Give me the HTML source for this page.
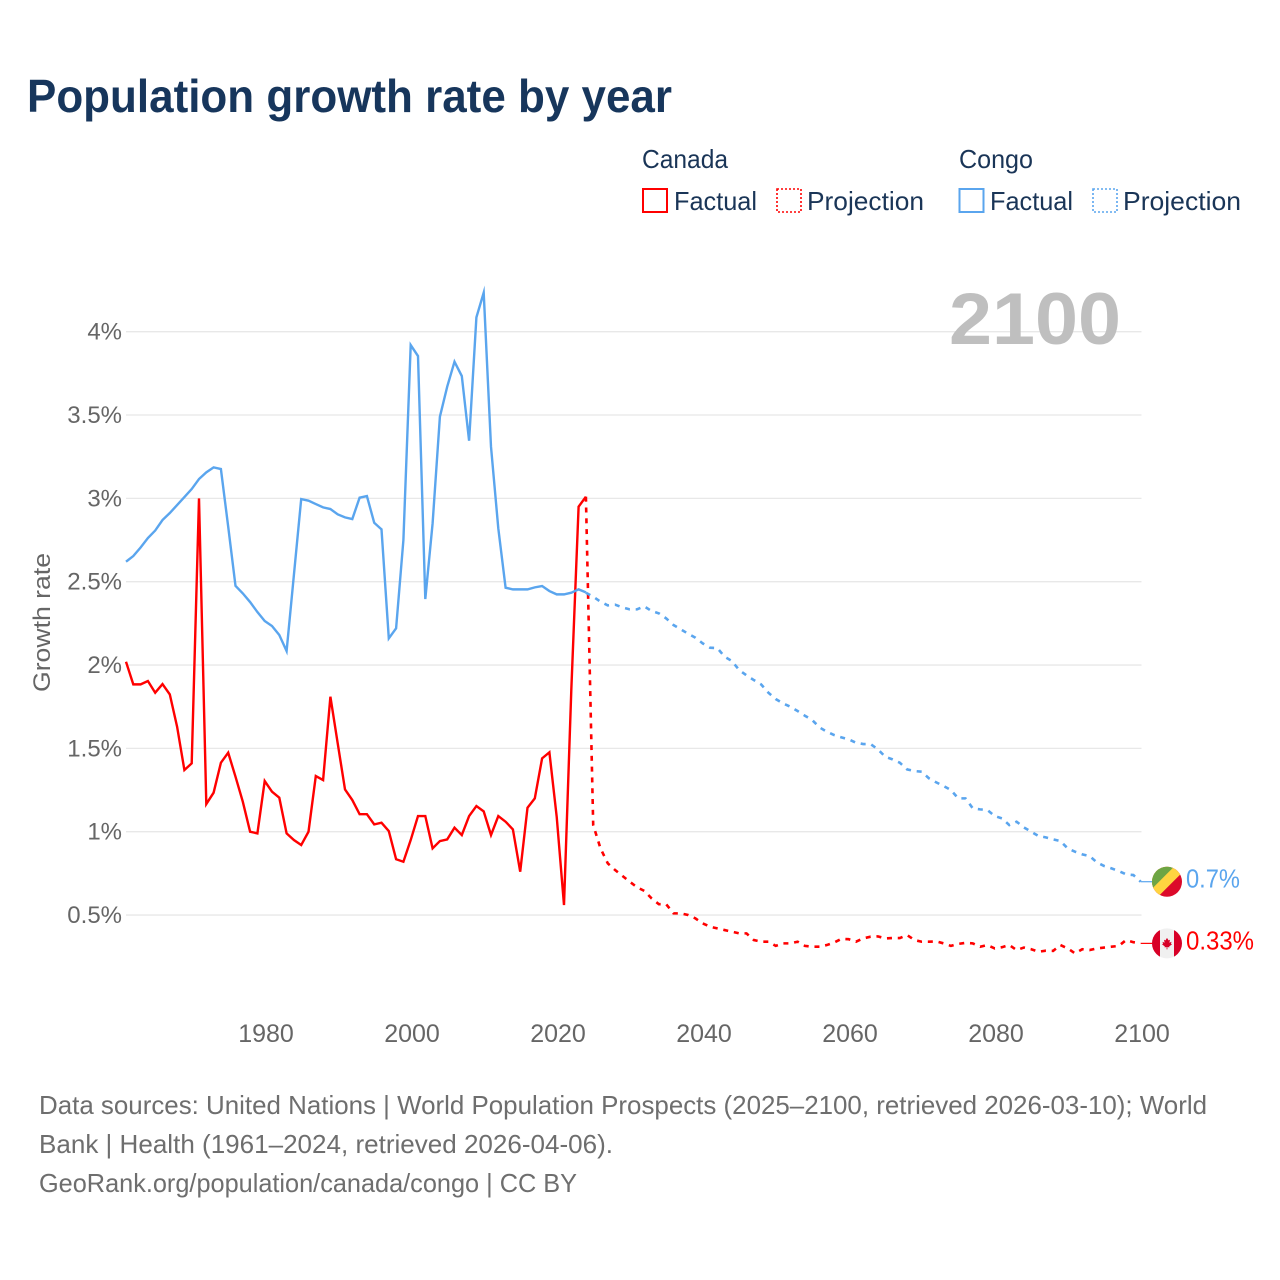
<!DOCTYPE html>
<html lang="en">
<head>
<meta charset="utf-8">
<title>Population growth rate by year</title>
<style>
html,body{margin:0;padding:0;background:#fff;}
svg{display:block;font-family:"Liberation Sans",sans-serif;}
</style>
</head>
<body>
<svg id="chart" width="1280" height="1280" viewBox="0 0 1280 1280" xmlns="http://www.w3.org/2000/svg">
  <defs>
    <clipPath id="congo-clip"><circle cx="0" cy="0" r="15"/></clipPath>
    <clipPath id="canada-clip"><circle cx="0" cy="0" r="15"/></clipPath>
  </defs>
  <rect width="1280" height="1280" fill="#fff"/>
  <text x="27" y="112" font-size="46" font-weight="700" fill="#17365c" textLength="645" lengthAdjust="spacingAndGlyphs">Population growth rate by year</text>

  <g fill="#1a3557" font-size="26">
    <text x="642" y="168" textLength="86" lengthAdjust="spacingAndGlyphs">Canada</text>
    <text x="959" y="168" textLength="74" lengthAdjust="spacingAndGlyphs">Congo</text>
    <g>
      <rect x="643" y="189" width="24" height="23" fill="none" stroke="#ff0000" stroke-width="2"/>
      <text x="674" y="210" textLength="83" lengthAdjust="spacingAndGlyphs">Factual</text>
    </g>
    <g>
      <rect x="777" y="189" width="24" height="23" fill="none" stroke="#ff0000" stroke-width="1.6" stroke-dasharray="2 2"/>
      <text x="807" y="210" textLength="117" lengthAdjust="spacingAndGlyphs">Projection</text>
    </g>
    <g>
      <rect x="959.5" y="189" width="24" height="23" fill="none" stroke="#5aa5ee" stroke-width="2"/>
      <text x="990" y="210" textLength="83" lengthAdjust="spacingAndGlyphs">Factual</text>
    </g>
    <g>
      <rect x="1093" y="189" width="24" height="23" fill="none" stroke="#5aa5ee" stroke-width="1.6" stroke-dasharray="2 2"/>
      <text x="1123" y="210" textLength="118" lengthAdjust="spacingAndGlyphs">Projection</text>
    </g>
  </g>

  <g id="grid"></g>
  <text x="1121" y="344" text-anchor="end" font-size="73" font-weight="700" fill="#bfbfbf" textLength="172" lengthAdjust="spacingAndGlyphs">2100</text>
  <g id="y-ticks"></g>
  <g id="x-ticks"></g>
  <text transform="translate(50 622.5) rotate(-90)" text-anchor="middle" font-size="24" fill="#666" textLength="139" lengthAdjust="spacingAndGlyphs">Growth rate</text>
  <g id="series"></g>

  <g id="flag-congo">
    <g clip-path="url(#congo-clip)">
      <rect x="-16" y="-16" width="32" height="32" fill="#dc0a2a"/>
      <polygon points="-16,-16 22,-16 -16,22" fill="#ffd440"/>
      <polygon points="-16,-16 8,-16 -16,8" fill="#6da544"/>
    </g>
  </g>
  <g id="flag-canada">
    <g clip-path="url(#canada-clip)">
      <rect x="-16" y="-16" width="32" height="32" fill="#f0f0f0"/>
      <rect x="-16" y="-16" width="9" height="32" fill="#d80027"/>
      <rect x="7" y="-16" width="9" height="32" fill="#d80027"/>
      <polygon points="0,-5.5 1.5,-3 3,-3.6 2.4,-0.6 4.5,-1.6 4,0.4 5,1 2.2,3 2.4,4 0.4,3.6 0.4,6 -0.4,6 -0.4,3.6 -2.4,4 -2.2,3 -5,1 -4,0.4 -4.5,-1.6 -2.4,-0.6 -3,-3.6 -1.5,-3" fill="#d80027"/>
    </g>
  </g>
  <text id="label-congo" x="1186" font-size="26" fill="#5aa5ee" textLength="54" lengthAdjust="spacingAndGlyphs"></text>
  <text id="label-canada" x="1186" font-size="26" fill="#ff0000" textLength="68" lengthAdjust="spacingAndGlyphs"></text>

  <g fill="#6e6e6e" font-size="26">
    <text x="39" y="1114" textLength="1168" lengthAdjust="spacingAndGlyphs">Data sources: United Nations | World Population Prospects (2025–2100, retrieved 2026-03-10); World</text>
    <text x="39" y="1153" textLength="574" lengthAdjust="spacingAndGlyphs">Bank | Health (1961–2024, retrieved 2026-04-06).</text>
    <text x="39" y="1192" textLength="538" lengthAdjust="spacingAndGlyphs">GeoRank.org/population/canada/congo | CC BY</text>
  </g>
</svg>
<script>
const factualStartYear = 1961;
const projectionStartYear = 2024;
const xTickYears = [1980, 2000, 2020, 2040, 2060, 2080, 2100];
const yTickValues = [0.5, 1, 1.5, 2, 2.5, 3, 3.5, 4];
const yTickLabels = ["0.5%", "1%", "1.5%", "2%", "2.5%", "3%", "3.5%", "4%"];
const endLabelCanada = "0.33%";
const endLabelCongo = "0.7%";

const canadaFactual = [
  2.02,1.884,1.884,1.904,1.834,1.886,1.824,1.63,1.37,1.41,
  3.0,1.166,1.234,1.414,1.474,1.33,1.18,1.0,0.99,1.304,
  1.24,1.204,0.99,0.95,0.92,1.0,1.334,1.31,1.81,1.53,
  1.254,1.19,1.105,1.105,1.044,1.054,1.004,0.835,0.82,0.95,
  1.094,1.094,0.9,0.944,0.954,1.024,0.98,1.094,1.154,1.122,
  0.98,1.094,1.06,1.014,0.76,1.144,1.2,1.44,1.476,1.09,
  0.56,1.85,2.95,3.01
];
const canadaProjection = [
  3.01,1.04,0.9,0.81,0.77,0.735,0.70,0.667,0.645,0.60,0.565,0.565,
  0.51,0.51,0.50,0.48,0.45,0.43,0.42,0.41,0.40,0.39,0.39,
  0.35,0.34,0.34,0.315,0.33,0.33,0.34,0.315,0.31,0.31,0.32,0.335,0.357,0.355,
  0.34,0.36,0.37,0.372,0.36,0.362,0.362,0.38,0.35,0.34,0.34,0.342,0.33,0.315,
  0.327,0.333,0.33,0.31,0.32,0.30,0.307,0.32,0.29,0.305,0.295,0.28,0.286,0.285,
  0.32,0.30,0.27,0.295,0.29,0.30,0.305,0.31,0.315,0.35,0.337,0.33
];
const congoFactual = [
  2.62,2.654,2.705,2.762,2.807,2.87,2.912,2.96,3.008,3.056,
  3.116,3.156,3.186,3.176,2.83,2.475,2.43,2.378,2.318,2.264,
  2.234,2.18,2.084,2.54,2.996,2.986,2.966,2.946,2.936,2.904,
  2.886,2.876,3.004,3.014,2.854,2.814,2.16,2.22,2.75,3.92,
  3.854,2.396,2.85,3.49,3.67,3.82,3.734,3.346,4.086,4.234,
  3.31,2.82,2.464,2.454,2.454,2.454,2.466,2.474,2.444,2.424,
  2.424,2.434,2.454,2.436
];
const congoProjection = [
  2.434,2.41,2.38,2.358,2.362,2.346,2.334,2.334,2.352,2.324,2.31,2.28,
  2.24,2.214,2.188,2.164,2.13,2.104,2.102,2.05,2.024,1.97,1.938,1.91,1.884,1.834,
  1.796,1.77,1.75,1.724,1.696,1.67,1.626,1.6,1.58,1.566,1.554,1.534,1.526,1.526,1.494,
  1.45,1.434,1.414,1.374,1.364,1.36,1.32,1.296,1.274,1.25,1.2,1.2,1.14,1.134,1.13,
  1.094,1.08,1.04,1.06,1.026,1.0,0.974,0.966,0.954,0.944,0.9,0.88,0.864,0.854,
  0.816,0.794,0.78,0.764,0.744,0.74,0.70
];

const SVG_NS = "http://www.w3.org/2000/svg";
function xScale(year) { return 126 + (year - 1961) * 7.3; }
function yScale(value) { return 331.7 + (4 - value) * 166.67; }
function linePoints(values, startYear) {
  return values.map(function (v, i) {
    return xScale(startYear + i).toFixed(2) + "," + yScale(v).toFixed(2);
  }).join(" ");
}

const gridGroup = document.getElementById("grid");
const yTickGroup = document.getElementById("y-ticks");
const xTickGroup = document.getElementById("x-ticks");
const seriesGroup = document.getElementById("series");

yTickValues.forEach(function (v, i) {
  const gridLine = document.createElementNS(SVG_NS, "line");
  gridLine.setAttribute("x1", 126);
  gridLine.setAttribute("x2", 1141.5);
  gridLine.setAttribute("y1", yScale(v));
  gridLine.setAttribute("y2", yScale(v));
  gridLine.setAttribute("stroke", "#e8e8e8");
  gridLine.setAttribute("stroke-width", "1.3");
  
  
  gridGroup.appendChild(gridLine);

  const tick = document.createElementNS(SVG_NS, "text");
  tick.setAttribute("x", 122);
  tick.setAttribute("y", yScale(v) + 8);
  tick.setAttribute("text-anchor", "end");
  tick.setAttribute("font-size", "24");
  tick.setAttribute("fill", "#666");
  tick.textContent = yTickLabels[i];
  
  
  yTickGroup.appendChild(tick);
});

xTickYears.forEach(function (year) {
  const tick = document.createElementNS(SVG_NS, "text");
  tick.setAttribute("x", xScale(year) + 1.3);
  tick.setAttribute("y", 1042);
  tick.setAttribute("text-anchor", "middle");
  tick.setAttribute("font-size", "25");
  tick.setAttribute("fill", "#666");
  tick.textContent = String(year);
  
  
  xTickGroup.appendChild(tick);
});

function drawLine(values, startYear, color, dashed, name) {
  const line = document.createElementNS(SVG_NS, "polyline");
  line.setAttribute("points", linePoints(values, startYear));
  line.setAttribute("fill", "none");
  line.setAttribute("stroke", color);
  line.setAttribute("stroke-width", dashed ? "2.6" : "2.4");
  line.setAttribute("stroke-linejoin", "miter");
  line.setAttribute("stroke-miterlimit", "6");
  if (dashed) { line.setAttribute("stroke-dasharray", "5 5.8"); }
  
  
  seriesGroup.appendChild(line);
}
drawLine(canadaProjection, projectionStartYear, "#ff0000", true, "canada-projection-line");
drawLine(canadaFactual, factualStartYear, "#ff0000", false, "canada-factual-line");
drawLine(congoFactual, factualStartYear, "#5aa5ee", false, "congo-factual-line");
drawLine(congoProjection, projectionStartYear, "#5aa5ee", true, "congo-projection-line");

function placeEnd(values, color, flagId, labelId, labelText, leaderName) {
  const last = values[values.length - 1];
  const cy = yScale(last);
  const leader = document.createElementNS(SVG_NS, "line");
  leader.setAttribute("x1", xScale(2100));
  leader.setAttribute("x2", 1153);
  leader.setAttribute("y1", cy);
  leader.setAttribute("y2", cy);
  leader.setAttribute("stroke", color);
  leader.setAttribute("stroke-width", "1.2");
  
  
  seriesGroup.appendChild(leader);
  document.getElementById(flagId).setAttribute("transform", "translate(1167 " + cy + ")");
  const label = document.getElementById(labelId);
  label.setAttribute("y", cy + 6);
  label.textContent = labelText;
}
placeEnd(congoProjection, "#5aa5ee", "flag-congo", "label-congo", endLabelCongo, "congo-leader-line");
placeEnd(canadaProjection, "#ff0000", "flag-canada", "label-canada", endLabelCanada, "canada-leader-line");
</script>
</body>
</html>
